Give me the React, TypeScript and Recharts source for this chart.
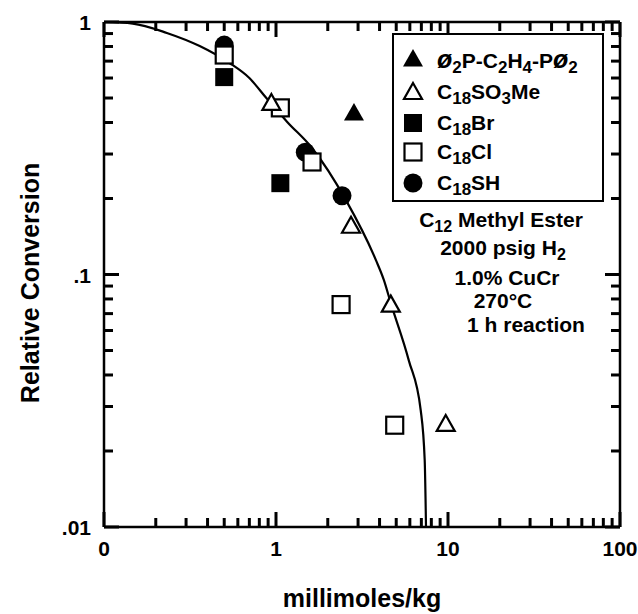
import React from "react";
import { ComposedChart, Line, Scatter, XAxis, YAxis, Legend } from "recharts";

const FONT = '"Liberation Sans", Arial, Helvetica, sans-serif';

// axis ticks (log scales; the 0.1 tick is labelled "0" in the original)
const xMajor = [0.1, 1, 10, 100];
const xTickLabels = ["0", "1", "10", "100"];
const xMinor = [0.2, 0.3, 0.4, 0.5, 0.6, 0.7, 0.8, 0.9, 2, 3, 4, 5, 6, 7, 8, 9, 20, 30, 40, 50, 60, 70, 80, 90];
const yMajor = [0.01, 0.1, 1];
const yTickLabels = [".01", ".1", "1"];
const yMinor = [0.02, 0.03, 0.04, 0.05, 0.06, 0.07, 0.08, 0.09, 0.2, 0.3, 0.4, 0.5, 0.6, 0.7, 0.8, 0.9];

// fitted curve
const curveX = [0.1, 0.147, 0.232, 0.36, 0.537, 0.7, 0.879, 1.162, 1.62, 2.55, 3.81, 4.24, 4.65, 5.91, 6.94, 7.32, 7.45];
const curveY = [1, 0.986, 0.905, 0.803, 0.688, 0.6, 0.5, 0.402, 0.317, 0.197, 0.114, 0.095, 0.077, 0.0458, 0.029, 0.0184, 0.01];

// measured points
const dppeX = [2.84];
const dppeY = [0.436];
const so3meX = [0.94, 2.73, 4.65, 9.7];
const so3meY = [0.478, 0.156, 0.076, 0.0256];
const brX = [0.5, 1.06];
const brY = [0.605, 0.23];
const clX = [0.5, 1.06, 1.62, 2.39, 4.9];
const clY = [0.74, 0.457, 0.279, 0.076, 0.0253];
const shX = [0.5, 1.48, 2.42];
const shY = [0.81, 0.305, 0.205];

const toPoints = (xs: number[], ys: number[]) => xs.map((x, i) => ({ x, y: ys[i] }));

const curve = toPoints(curveX, curveY);
const dppe = toPoints(dppeX, dppeY);
const so3me = toPoints(so3meX, so3meY);
const br = toPoints(brX, brY);
const cl = toPoints(clX, clY);
const sh = toPoints(shX, shY);

const xTicks = [...xMajor, ...xMinor].sort((a, b) => a - b);
const yTicks = [...yMajor, ...yMinor].sort((a, b) => a - b);

const TICK = "#000";
const TICK_W = 3;
const MAJOR_LEN = 15;
const MINOR_LEN = 9;

type Kind = "triFilled" | "triOpen" | "sqFilled" | "sqOpen" | "circle";

function markerEl(kind: Kind, cx: number, cy: number) {
  switch (kind) {
    case "triFilled":
      return <polygon points={`${cx},${cy - 10} ${cx + 10},${cy + 7.5} ${cx - 10},${cy + 7.5}`} fill="#000" />;
    case "triOpen":
      return (
        <polygon
          points={`${cx},${cy - 9} ${cx + 9},${cy + 7} ${cx - 9},${cy + 7}`}
          fill="#fff"
          stroke="#000"
          strokeWidth={2.2}
        />
      );
    case "sqFilled":
      return <rect x={cx - 9} y={cy - 9} width={18} height={18} fill="#000" />;
    case "sqOpen":
      return <rect x={cx - 8.5} y={cy - 8.5} width={17} height={17} fill="#fff" stroke="#000" strokeWidth={2.2} />;
    default:
      return <circle cx={cx} cy={cy} r={9.5} fill="#000" />;
  }
}

const shapeOf = (kind: Kind) => (props: any) => markerEl(kind, props.cx, props.cy);

function BottomTick(props: any) {
  const { x, y, payload } = props;
  const i = xMajor.indexOf(payload.value);
  return (
    <g>
      <path d={`M${x},${y}V${y - (i >= 0 ? MAJOR_LEN : MINOR_LEN)}`} stroke={TICK} strokeWidth={TICK_W} fill="none" />
      {i >= 0 && (
        <text x={x} y={y + 29} textAnchor="middle" fontFamily={FONT} fontWeight="bold" fontSize={21} fill="#000">
          {xTickLabels[i]}
        </text>
      )}
    </g>
  );
}

function TopTick(props: any) {
  const { x, y, payload } = props;
  const major = xMajor.includes(payload.value);
  return (
    <path d={`M${x},${y}V${y + (major ? MAJOR_LEN : MINOR_LEN)}`} stroke={TICK} strokeWidth={TICK_W} fill="none" />
  );
}

function LeftTick(props: any) {
  const { x, y, payload } = props;
  const i = yMajor.indexOf(payload.value);
  return (
    <g>
      <path d={`M${x},${y}H${x + (i >= 0 ? MAJOR_LEN : MINOR_LEN)}`} stroke={TICK} strokeWidth={TICK_W} fill="none" />
      {i >= 0 && (
        <text x={x - 13} y={y + 8} textAnchor="end" fontFamily={FONT} fontWeight="bold" fontSize={21} fill="#000">
          {yTickLabels[i]}
        </text>
      )}
    </g>
  );
}

function RightTick(props: any) {
  const { x, y, payload } = props;
  const major = yMajor.includes(payload.value);
  return (
    <path d={`M${x},${y}H${x - (major ? MAJOR_LEN : MINOR_LEN)}`} stroke={TICK} strokeWidth={TICK_W} fill="none" />
  );
}

const Sub = ({ children }: { children: React.ReactNode }) => (
  <span style={{ fontSize: 17, position: "relative", top: 5 }}>{children}</span>
);
const Phi = () => <span style={{ fontSize: 25, fontStyle: "italic" }}>ø</span>;

const legendRows: { kind: Kind; label: React.ReactNode; cy: number }[] = [
  {
    kind: "triFilled",
    cy: 58,
    label: (
      <>
        <Phi />
        <Sub>2</Sub>P-C<Sub>2</Sub>H<Sub>4</Sub>-P<Phi />
        <Sub>2</Sub>
      </>
    ),
  },
  { kind: "triOpen", cy: 91, label: <>C<Sub>18</Sub>SO<Sub>3</Sub>Me</> },
  { kind: "sqFilled", cy: 122, label: <>C<Sub>18</Sub>Br</> },
  { kind: "sqOpen", cy: 151, label: <>C<Sub>18</Sub>Cl</> },
  { kind: "circle", cy: 182, label: <>C<Sub>18</Sub>SH</> },
];

function LegendBox() {
  return (
    <div
      style={{
        position: "relative",
        width: 212,
        height: 169,
        border: "2.5px solid #000",
        boxSizing: "border-box",
        background: "#fff",
        fontFamily: FONT,
        fontWeight: "bold",
        fontSize: 21,
        color: "#000",
      }}
    >
      {legendRows.map((r, i) => (
        <div key={i} style={{ position: "absolute", left: 0, top: r.cy - 33 - 14, height: 28, width: 210 }}>
          <svg width={40} height={28} style={{ position: "absolute", left: 0, top: 0 }}>
            {markerEl(r.kind, 19, 13)}
          </svg>
          <div style={{ position: "absolute", left: 43, top: 0, lineHeight: "26px", whiteSpace: "nowrap" }}>
            {r.label}
          </div>
        </div>
      ))}
    </div>
  );
}

const textProps = { fontFamily: FONT, fontWeight: "bold" as const, fill: "#000" };

export default function App() {
  return (
    <div style={{ position: "absolute", left: 0, top: 0, width: 638, height: 614, background: "#fff" }}>
      <ComposedChart width={638} height={614} margin={{ top: 21, right: 17, left: 0, bottom: 0 }}>
        <XAxis
          xAxisId="bottom"
          dataKey="x"
          type="number"
          scale="log"
          domain={[0.1, 100]}
          allowDataOverflow
          ticks={xTicks}
          interval={0}
          height={87}
          tickSize={0}
          tickMargin={0}
          tickLine={false}
          axisLine={{ stroke: "#000", strokeWidth: 2.5 }}
          tick={(p: any) => <BottomTick {...p} />}
        />
        <XAxis
          xAxisId="top"
          orientation="top"
          dataKey="x"
          type="number"
          scale="log"
          domain={[0.1, 100]}
          allowDataOverflow
          ticks={xTicks}
          interval={0}
          height={1}
          tickSize={0}
          tickMargin={0}
          tickLine={false}
          axisLine={{ stroke: "#000", strokeWidth: 2.5 }}
          tick={(p: any) => <TopTick {...p} />}
        />
        <YAxis
          yAxisId="left"
          dataKey="y"
          type="number"
          scale="log"
          domain={[0.01, 1]}
          allowDataOverflow
          ticks={yTicks}
          interval={0}
          width={104}
          tickSize={0}
          tickMargin={0}
          tickLine={false}
          axisLine={{ stroke: "#000", strokeWidth: 2.5 }}
          tick={(p: any) => <LeftTick {...p} />}
        />
        <YAxis
          yAxisId="right"
          orientation="right"
          dataKey="y"
          type="number"
          scale="log"
          domain={[0.01, 1]}
          allowDataOverflow
          ticks={yTicks}
          interval={0}
          width={1}
          tickSize={0}
          tickMargin={0}
          tickLine={false}
          axisLine={{ stroke: "#000", strokeWidth: 2.5 }}
          tick={(p: any) => <RightTick {...p} />}
        />
        <Line
          xAxisId="bottom"
          yAxisId="left"
          data={curve}
          dataKey="y"
          type="monotone"
          dot={false}
          stroke="#000"
          strokeWidth={2.2}
          isAnimationActive={false}
          legendType="none"
        />
        <Scatter xAxisId="bottom" yAxisId="left" data={br} shape={shapeOf("sqFilled")} isAnimationActive={false} />
        <Scatter xAxisId="bottom" yAxisId="left" data={sh} shape={shapeOf("circle")} isAnimationActive={false} />
        <Scatter xAxisId="bottom" yAxisId="left" data={cl} shape={shapeOf("sqOpen")} isAnimationActive={false} />
        <Scatter xAxisId="bottom" yAxisId="left" data={so3me} shape={shapeOf("triOpen")} isAnimationActive={false} />
        <Scatter xAxisId="bottom" yAxisId="left" data={dppe} shape={shapeOf("triFilled")} isAnimationActive={false} />
        <Legend
          layout="horizontal"
          verticalAlign="middle"
          align="center"
          content={() => <LegendBox />}
          wrapperStyle={{ left: 392, top: 33, width: 212, height: 169 }}
        />
        <text {...textProps} fontSize={25} transform="translate(39, 283) rotate(-90)" textAnchor="middle">
          Relative Conversion
        </text>
        <text {...textProps} fontSize={25} x={362} y={607} textAnchor="middle">
          millimoles/kg
        </text>
        <text {...textProps} fontSize={21} x={501} y={227} textAnchor="middle">
          C<tspan fontSize={16} dy={5}>12</tspan>
          <tspan dy={-5}> Methyl Ester</tspan>
        </text>
        <text {...textProps} fontSize={21} x={503} y={255} textAnchor="middle">
          2000 psig H<tspan fontSize={16} dy={5}>2</tspan>
        </text>
        <text {...textProps} fontSize={21} x={507} y={285} textAnchor="middle">
          1.0% CuCr
        </text>
        <text {...textProps} fontSize={21} x={503} y={308} textAnchor="middle">
          270°C
        </text>
        <text {...textProps} fontSize={21} x={526} y={332} textAnchor="middle">
          1 h reaction
        </text>
      </ComposedChart>
    </div>
  );
}
